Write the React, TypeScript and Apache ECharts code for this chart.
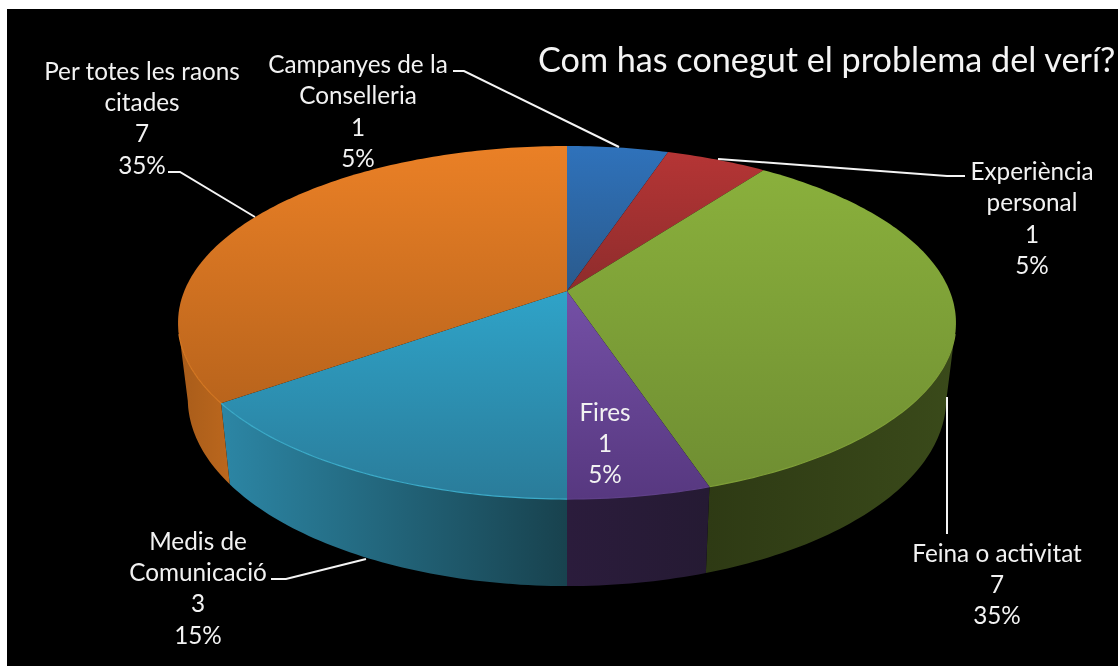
import React, { useEffect, useRef } from "react";
import * as echarts from "echarts";

const categories = [
  "Campanyes de la\nConselleria",
  "Experiència\npersonal",
  "Feina o activitat",
  "Fires",
  "Medis de\nComunicació",
  "Per totes les raons\ncitades",
];
const values = [1, 1, 7, 1, 3, 7];
const percents = [5, 5, 35, 5, 15, 35];
const titleText = "Com has conegut el problema del verí?";

// top-face gradient [top, bottom], wall gradient [left, right], rim highlight
const topColors = [
  ["#2f72bb", "#2a5a8c"],
  ["#b53535", "#8e2c2c"],
  ["#8ab03c", "#6f8e32"],
  ["#7450a6", "#573880"],
  ["#2fa3c8", "#2a7c9a"],
  ["#ea8026", "#b9641c"],
];
const wallColors = [
  ["#1c3a5c", "#1c3a5c"],
  ["#5a1c1c", "#5a1c1c"],
  ["#2e3a14", "#3a4a1a"],
  ["#2b1c3c", "#251a33"],
  ["#2c86a5", "#18424e"],
  ["#a85c1a", "#bb671d"],
];
const rimColors = ["none", "none", "#7f9f38", "#5f4088", "#3cabc9", "#d57823"];

// label centre x, first line centre y
const labelPos = [
  [358, 63],
  [1032, 170],
  [997, 552],
  [605, 411],
  [198, 540],
  [142, 70],
];
const labelLineGap = [31.6, 31.6, 31, 31, 31.4, 31.4];
const leaders = [
  [[453, 71], [464, 71], [619, 147]],
  [[718, 159], [947, 176], [965, 176]],
  [[947, 397], [947, 534]],
  [],
  [[271, 579], [286, 579], [366, 559]],
  [[168, 172], [180, 172], [255, 217]],
];

// projected disc
const CX = 567;
const CY = 291;
const R = 382.7;
const KR = 170.9;
const P = 0.1785;
const MID_Y = 322;

const total = values.reduce((a, b) => a + b, 0);
const startOf = (i: number) => values.slice(0, i).reduce((a, b) => a + b, 0) / total;

function rim(f: number): [number, number] {
  const t = f * Math.PI * 2;
  const u = Math.sin(t);
  const v = Math.cos(t);
  const s = 1 / (1 + P * v);
  return [CX + R * u * s, CY - KR * v * s];
}
function lower(p: [number, number]): [number, number] {
  const [x, y] = p;
  return [CX + (x - CX) * 0.975, y + 81 + 0.062 * (y - 402)];
}
function arc(i: number): [number, number][] {
  const a = startOf(i);
  const b = startOf(i + 1);
  const n = Math.max(2, Math.ceil((b - a) * 360));
  const pts: [number, number][] = [];
  for (let k = 0; k <= n; k++) pts.push(rim(a + ((b - a) * k) / n));
  return pts;
}
const grad = (c: string[], horizontal: boolean) =>
  new echarts.graphic.LinearGradient(0, 0, horizontal ? 1 : 0, horizontal ? 0 : 1, [
    { offset: 0, color: c[0] },
    { offset: 1, color: c[1] },
  ]);

const FONT = "Lato, Carlito, sans-serif";

export default function App() {
  const ref = useRef<HTMLDivElement>(null);
  useEffect(() => {
    const chart = echarts.init(ref.current!, undefined, { renderer: "svg" });
    const data = values.map((v) => [v]);
    chart.setOption({
      animation: false,
      backgroundColor: "transparent",
      title: {
        text: titleText,
        left: 533,
        top: 36,
        textStyle: { color: "#f4f4f4", fontFamily: FONT, fontSize: 34.2, fontWeight: "normal" },
      },
      series: [
        {
          type: "custom",
          name: "walls",
          coordinateSystem: "none",
          silent: true,
          z: 1,
          data,
          renderItem: (params: any) => {
            const i = params.dataIndex;
            // only the front of the disc shows a wall
            const top = arc(i).filter((p) => p[1] >= MID_Y);
            if (top.length < 2) return { type: "group", children: [] };
            const bottom = top.map(lower).reverse();
            return {
              type: "polygon",
              shape: { points: [...top, ...bottom] },
              style: { fill: grad(wallColors[i], true) },
            };
          },
        },
        {
          type: "custom",
          name: "tops",
          coordinateSystem: "none",
          silent: true,
          z: 2,
          data,
          renderItem: (params: any) => {
            const i = params.dataIndex;
            const pts = arc(i);
            const children: any[] = [
              {
                type: "polygon",
                shape: { points: [[CX, CY], ...pts] },
                style: { fill: grad(topColors[i], false) },
              },
            ];
            const front = pts.filter((p) => p[1] > MID_Y + 10);
            if (rimColors[i] !== "none" && front.length > 1) {
              children.push({
                type: "polyline",
                shape: { points: front },
                style: { fill: "none", stroke: rimColors[i], lineWidth: 1.2 },
              });
            }
            return { type: "group", children };
          },
        },
        {
          type: "custom",
          name: "labels",
          coordinateSystem: "none",
          silent: true,
          z: 3,
          data,
          renderItem: (params: any, api: any) => {
            const i = params.dataIndex;
            const lines = [...categories[i].split("\n"), String(api.value(0)), percents[i] + "%"];
            const children: any[] = lines.map((line, k) => ({
              type: "text",
              style: {
                text: line,
                x: labelPos[i][0],
                y: labelPos[i][1] + k * labelLineGap[i],
                fill: "#f2f2f2",
                font: `24.3px ${FONT}`,
                align: "center",
                verticalAlign: "middle",
              },
            }));
            if (leaders[i].length) {
              children.push({
                type: "polyline",
                shape: { points: leaders[i] },
                style: { fill: "none", stroke: "#f4f4f4", lineWidth: 2 },
              });
            }
            return { type: "group", children };
          },
        },
      ],
    });
    return () => chart.dispose();
  }, []);
  return (
    <div style={{ position: "absolute", left: 0, top: 0, width: 1118, height: 666, background: "#fff", overflow: "hidden" }}>
      <div style={{ position: "absolute", left: 7, top: 9, width: 1111, height: 657, background: "#000" }} />
      <div ref={ref} style={{ position: "absolute", left: 0, top: 0, width: 1118, height: 666, filter: "blur(0.4px)" }} />
    </div>
  );
}
